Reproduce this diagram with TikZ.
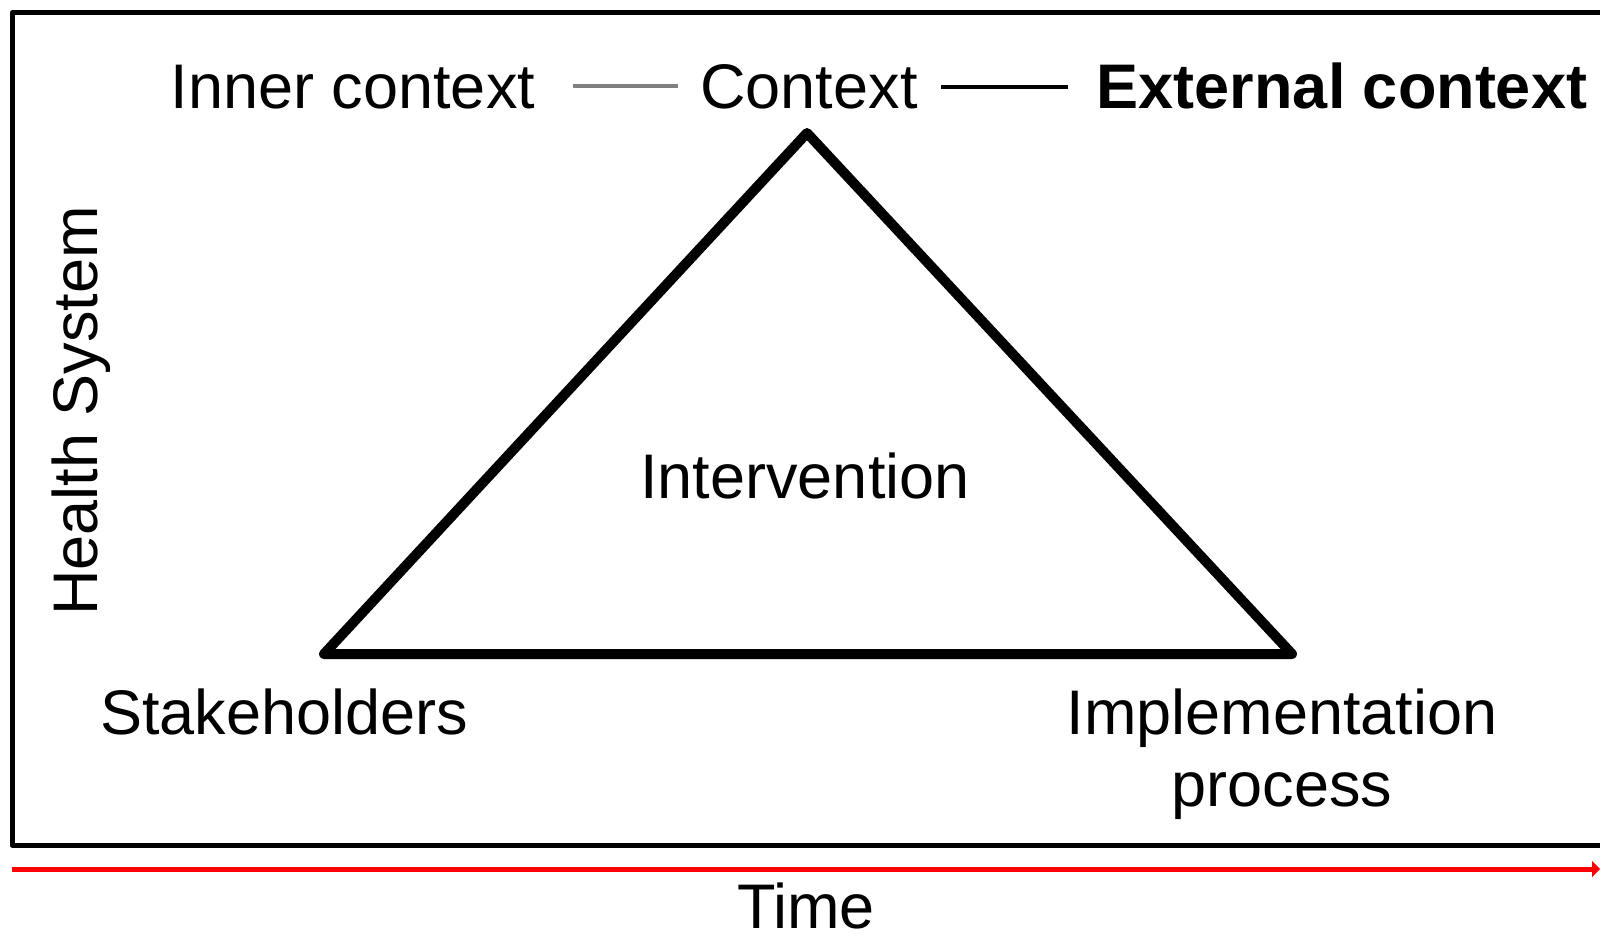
\documentclass[tikz,border=0pt]{standalone}
\usepackage{fontspec}
\setmainfont{Liberation Sans}
\usetikzlibrary{arrows.meta}
\begin{document}
\begin{tikzpicture}[x=1pt,y=-1pt,
  lbl/.style={inner sep=0pt,anchor=base,font=\fontsize{63}{75}\selectfont},
  frame/.style={line width=5pt,line cap=round,line join=round},
  tri/.style={line width=10pt,line join=round,line cap=round}]
\useasboundingbox (0,0) rectangle (1600,939);
% frame
\draw[frame] (1620,13) -- (12,13) -- (12,845) -- (1620,845);
% time arrow
\coordinate (t0) at (12,869);
\coordinate (t1) at (1600,869);
\draw[red,line width=5pt,-{Triangle[length=8pt,width=16pt]}] (t0) -- (t1);
% labels
\node[lbl] (inner) at (353,109) {Inner context};
\node[lbl] (ctx) at (809,109) {Context};
\node[lbl,font=\fontsize{63}{75}\selectfont\bfseries] (ext) at (1342,109) {External context};
\node[lbl] (interv) at (805,498) {Intervention};
\node[lbl] (stake) at (284,734) {Stakeholders};
\node[lbl,align=center,font=\fontsize{63}{72}\selectfont] (impl) at (1282,806) {Implementation\\process};
\node[lbl,rotate=90] (health) at (97,411) {Health System};
\node[lbl] (time) at (806,928) {Time};
% context connectors
\coordinate (g0) at (573,86);
\coordinate (g1) at (678,86);
\coordinate (b0) at (941,87);
\coordinate (b1) at (1068,87);
\draw[line width=4pt,gray] (g0) -- (g1);
\draw[line width=4pt] (b0) -- (b1);
% triangle
\coordinate (apex) at (807,133);
\coordinate (bl) at (324,654);
\coordinate (br) at (1292,654);
\draw[tri] (apex) -- (bl) -- (br) -- cycle;
\end{tikzpicture}
\end{document}
